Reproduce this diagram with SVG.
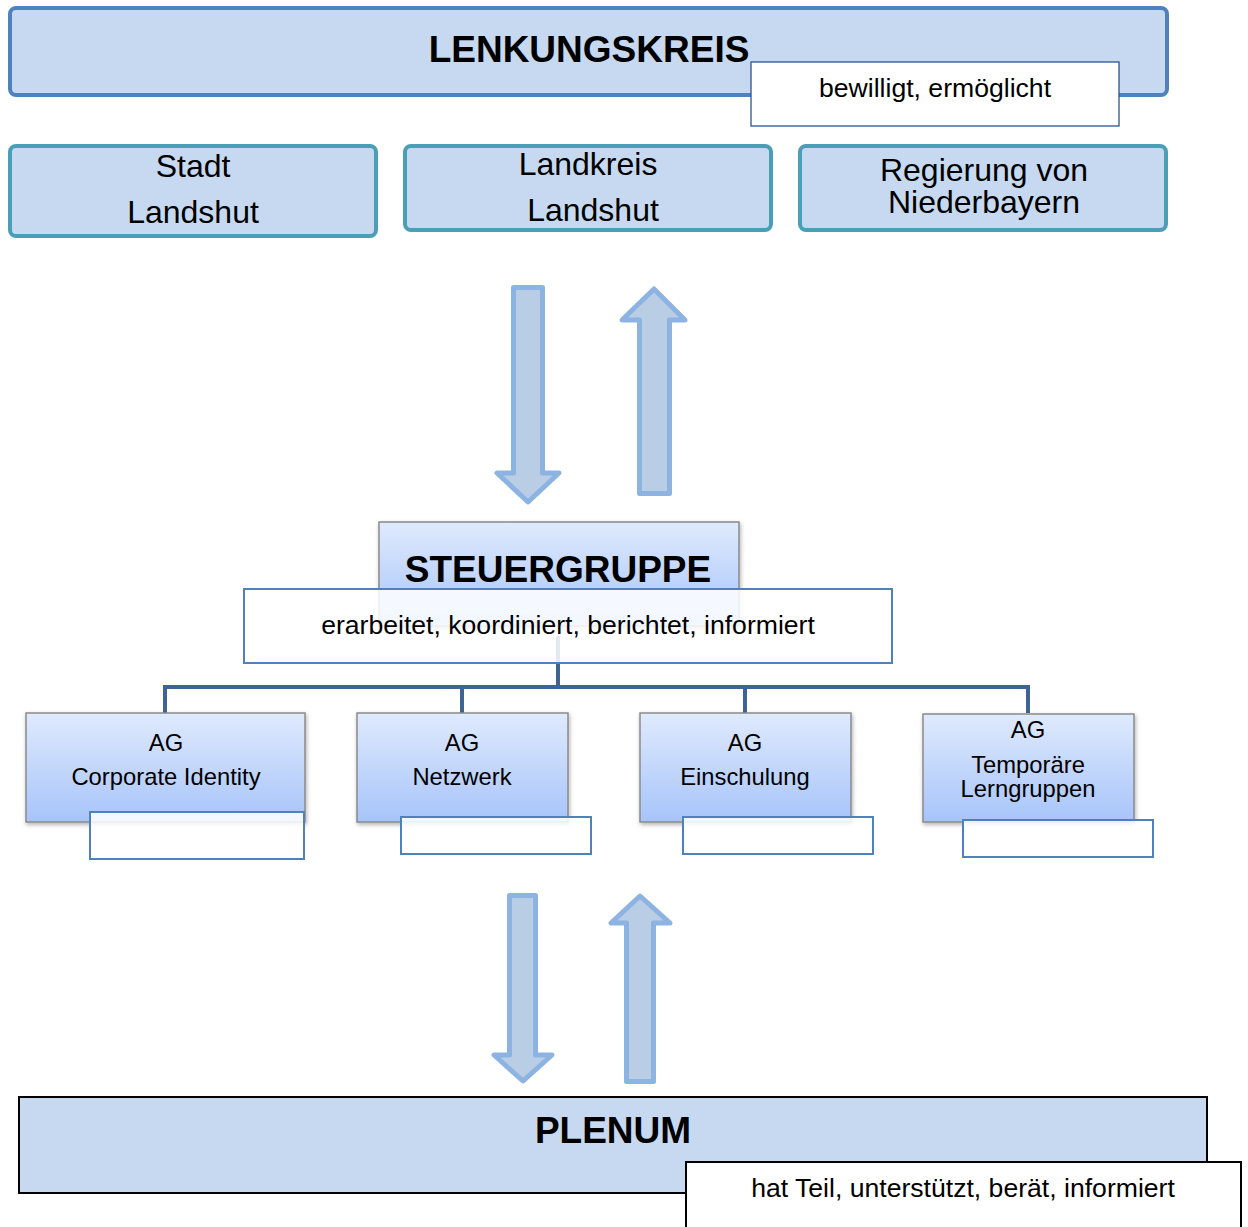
<svg xmlns="http://www.w3.org/2000/svg" width="1248" height="1227" viewBox="0 0 1248 1227">
<style>
text{font-family:"Liberation Sans",Arial,sans-serif;fill:#000;text-anchor:middle}
.big{font-weight:bold;font-size:37px}
.lbl{font-size:26.6px}
.sub{font-size:32px}
.ag{font-size:23.8px}
.head{fill:#c6d9f0;stroke:#4f81bd;stroke-width:4}
.org{fill:#c6d9f0;stroke:#4a9fb6;stroke-width:4}
.note{fill:#fff;stroke:#2c5494;stroke-width:1.3}
.note2{fill:#fff;fill-opacity:0.86;stroke:#4f81bd;stroke-width:2}
.agbox{fill:url(#g);stroke:#8a8a8a;stroke-width:1.5;filter:url(#sh)}
.arr{fill:#b9cde5;stroke:#8db3e2;stroke-width:5;stroke-linejoin:round}
.con{stroke:#3e6496;stroke-width:4;fill:none}
</style>
<defs>
<linearGradient id="g" x1="0" y1="0" x2="0" y2="1">
<stop offset="0" stop-color="#dfeafd"/>
<stop offset="1" stop-color="#a7c4fa"/>
</linearGradient>
<filter id="sh" x="-10%" y="-10%" width="125%" height="130%">
<feDropShadow dx="1" dy="2" stdDeviation="2" flood-color="#000" flood-opacity="0.3"/>
</filter>
</defs>
<rect width="1248" height="1227" fill="#fff"/>

<g id="lenkungskreis">
<rect class="head" x="10" y="8" width="1157" height="87" rx="6"/>
<text class="big" x="589" y="62">LENKUNGSKREIS</text>
</g>
<g id="lenkungskreis-note">
<rect class="note" x="751" y="62" width="368" height="64"/>
<text class="lbl" x="935" y="97">bewilligt, ermöglicht</text>
</g>

<g id="stadt">
<rect class="org" x="10" y="146" width="366" height="90" rx="6"/>
<text class="sub" x="193" y="177">Stadt</text>
<text class="sub" x="193" y="223">Landshut</text>
</g>
<g id="landkreis">
<rect class="org" x="405" y="146" width="366" height="84" rx="6"/>
<text class="sub" x="588" y="175">Landkreis</text>
<text class="sub" x="593" y="221">Landshut</text>
</g>
<g id="regierung">
<rect class="org" x="800" y="146" width="366" height="84" rx="6"/>
<text class="sub" x="984" y="181">Regierung von</text>
<text class="sub" x="984" y="213">Niederbayern</text>
</g>

<g id="arrows">
<polygon class="arr" points="513.5,287.5 542.5,287.5 542.5,473 559,473 528,502 497,473 513.5,473"/>
<polygon class="arr" points="639.5,493.5 669.5,493.5 669.5,320 685,320 654,289 622,320 639.5,320"/>
<polygon class="arr" points="509.5,895.5 535.5,895.5 535.5,1055 552,1055 523,1081 494,1055 509.5,1055"/>
<polygon class="arr" points="626.5,1081.5 653.5,1081.5 653.5,923 670,923 640,896 611,923 626.5,923"/>
</g>

<g id="steuergruppe">
<rect x="379" y="522" width="360" height="104" fill="url(#g)" stroke="#8a8a8a" stroke-width="1.5" filter="url(#sh)"/>
<text class="big" x="558" y="582">STEUERGRUPPE</text>
</g>

<g id="connectors">
<path class="con" d="M558,636 V687 M165,687 H1028 M165,685 V713 M462,685 V713 M745,685 V713 M1028,685 V713"/>
</g>

<g id="steuergruppe-note">
<rect class="note2" x="244" y="589" width="648" height="74"/>
<text class="lbl" x="568" y="634">erarbeitet, koordiniert, berichtet, informiert</text>
</g>

<g id="ag-ci">
<rect class="agbox" x="26" y="713" width="279" height="109"/>
<text class="ag" x="166" y="751">AG</text>
<text class="ag" x="166" y="785">Corporate Identity</text>
<rect class="note2" x="90" y="812" width="214" height="47"/>
</g>
<g id="ag-netzwerk">
<rect class="agbox" x="357" y="713" width="211" height="109"/>
<text class="ag" x="462" y="751">AG</text>
<text class="ag" x="462" y="785">Netzwerk</text>
<rect class="note2" x="401" y="817" width="190" height="37"/>
</g>
<g id="ag-einschulung">
<rect class="agbox" x="640" y="713" width="211" height="109"/>
<text class="ag" x="745" y="751">AG</text>
<text class="ag" x="745" y="785">Einschulung</text>
<rect class="note2" x="683" y="817" width="190" height="37"/>
</g>
<g id="ag-lerngruppen">
<rect class="agbox" x="923" y="714" width="211" height="108"/>
<text class="ag" x="1028" y="738">AG</text>
<text class="ag" x="1028" y="773">Temporäre</text>
<text class="ag" x="1028" y="797">Lerngruppen</text>
<rect class="note2" x="963" y="820" width="190" height="37"/>
</g>

<g id="plenum">
<rect x="19" y="1097" width="1188" height="96" fill="#c6d9f0" stroke="#000" stroke-width="2"/>
<text class="big" x="613" y="1143">PLENUM</text>
</g>
<g id="plenum-note">
<rect x="686" y="1162" width="555" height="80" fill="#fff" stroke="#000" stroke-width="2"/>
<text class="lbl" x="963" y="1197">hat Teil, unterstützt, berät, informiert</text>
</g>
</svg>
